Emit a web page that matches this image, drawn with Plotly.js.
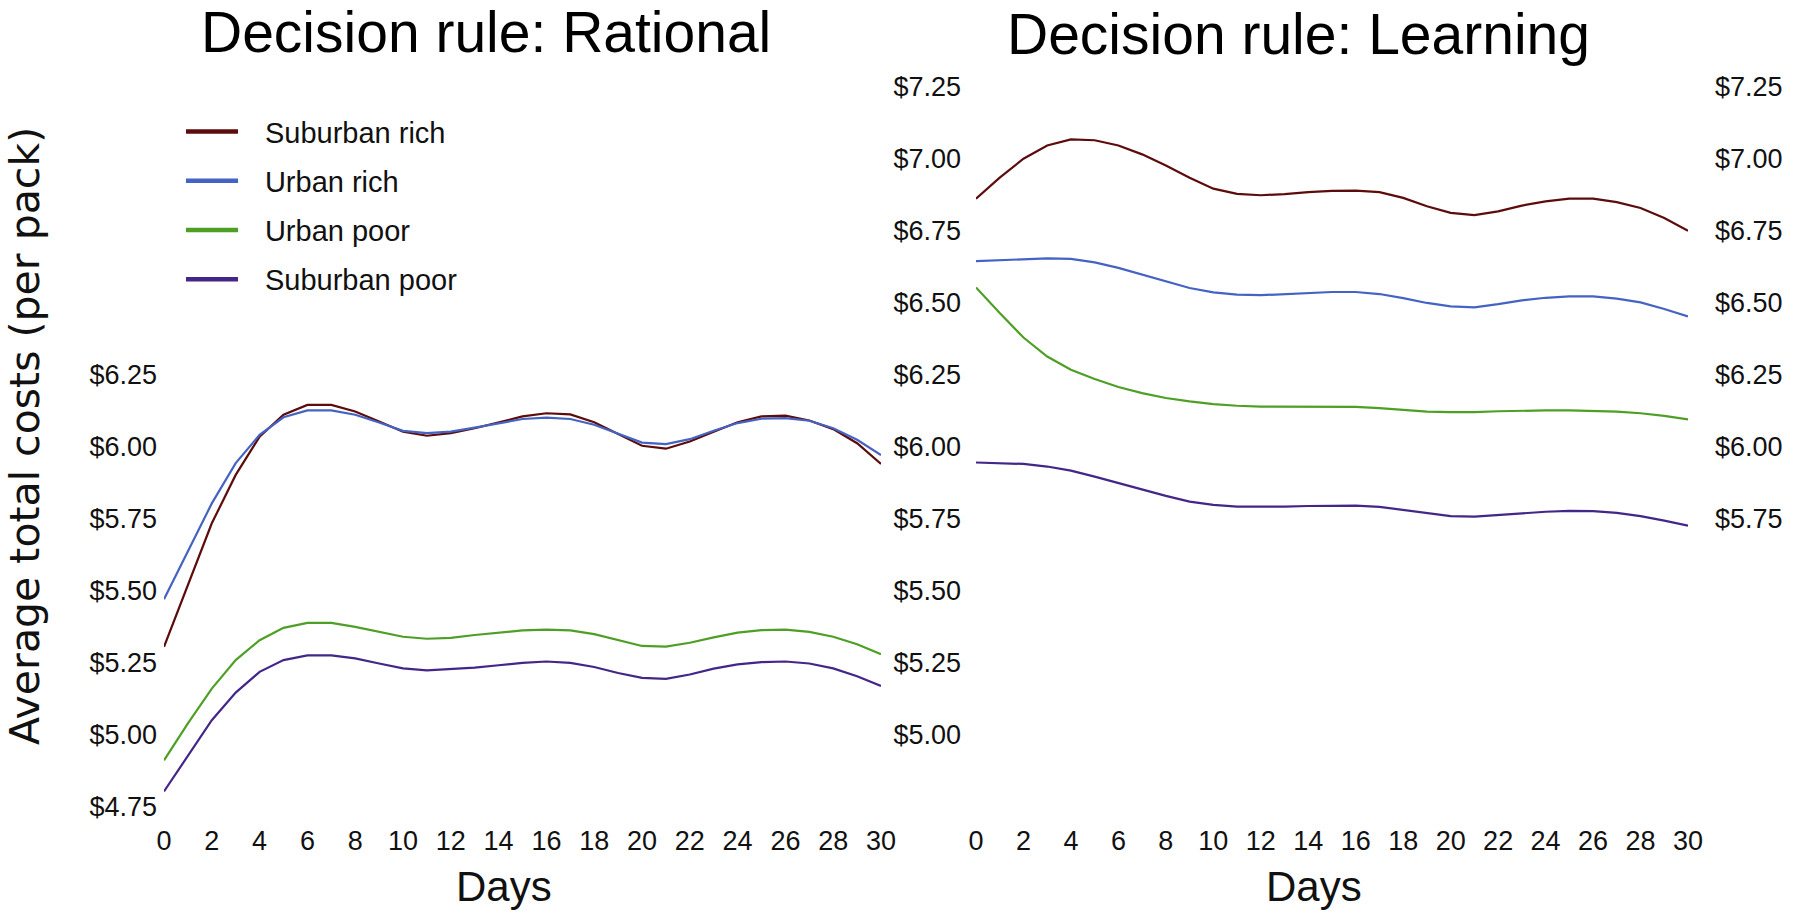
<!DOCTYPE html>
<html>
<head>
<meta charset="utf-8">
<script src="https://cdn.plot.ly/plotly-3.0.1.min.js"></script>
<style>
  html, body { margin: 0; padding: 0; background: #ffffff; }
  #chart { width: 1800px; height: 915px; }
</style>
</head>
<body>
<div id="chart"></div>
<script>
// ---- Data ----
const days = [0,1,2,3,4,5,6,7,8,9,10,11,12,13,14,15,16,17,18,19,20,21,22,23,24,25,26,27,28,29,30];
const seriesNames = ["Suburban rich", "Urban rich", "Urban poor", "Suburban poor"];
const seriesColors = ["#5c0c0c", "#4463c2", "#4e9f25", "#432688"];

// Decision rule: Rational
const rationalSuburbanRich = [5.304,5.518,5.733,5.901,6.034,6.110,6.144,6.144,6.121,6.086,6.051,6.037,6.046,6.063,6.084,6.104,6.115,6.111,6.084,6.043,6.002,5.992,6.017,6.051,6.084,6.104,6.107,6.090,6.060,6.011,5.939];
const rationalUrbanRich    = [5.469,5.634,5.802,5.942,6.040,6.101,6.125,6.125,6.110,6.083,6.054,6.046,6.051,6.065,6.081,6.095,6.100,6.095,6.075,6.043,6.013,6.008,6.025,6.054,6.081,6.096,6.098,6.089,6.063,6.023,5.970];
const rationalUrbanPoor    = [4.910,5.038,5.159,5.258,5.327,5.370,5.387,5.387,5.373,5.356,5.339,5.332,5.335,5.345,5.353,5.361,5.364,5.361,5.348,5.327,5.307,5.305,5.318,5.337,5.353,5.362,5.364,5.356,5.339,5.313,5.278];
const rationalSuburbanPoor = [4.802,4.927,5.049,5.145,5.217,5.258,5.274,5.274,5.264,5.246,5.229,5.222,5.226,5.232,5.240,5.248,5.253,5.248,5.234,5.213,5.196,5.193,5.208,5.228,5.243,5.251,5.253,5.246,5.229,5.202,5.168];

// Decision rule: Learning
const learningSuburbanRich = [6.860,6.933,6.999,7.045,7.066,7.063,7.045,7.014,6.975,6.933,6.895,6.877,6.872,6.876,6.883,6.887,6.888,6.883,6.863,6.834,6.811,6.803,6.816,6.836,6.851,6.860,6.860,6.848,6.828,6.793,6.749];
const learningUrbanRich    = [6.643,6.647,6.651,6.653,6.651,6.639,6.620,6.596,6.573,6.550,6.535,6.527,6.525,6.529,6.532,6.536,6.536,6.529,6.515,6.498,6.486,6.483,6.494,6.507,6.516,6.521,6.521,6.513,6.500,6.477,6.451];
const learningUrbanPoor    = [6.552,6.463,6.378,6.312,6.266,6.234,6.206,6.185,6.168,6.156,6.147,6.141,6.138,6.138,6.138,6.138,6.137,6.133,6.127,6.121,6.119,6.119,6.122,6.124,6.125,6.125,6.124,6.121,6.115,6.106,6.094];
const learningSuburbanPoor = [5.944,5.942,5.939,5.930,5.916,5.895,5.872,5.849,5.828,5.808,5.797,5.791,5.790,5.791,5.793,5.794,5.794,5.790,5.779,5.768,5.758,5.756,5.762,5.769,5.773,5.776,5.775,5.769,5.758,5.742,5.725];

// Tick labels
const xTickVals = [0,2,4,6,8,10,12,14,16,18,20,22,24,26,28,30];
const xTickText = ["0","2","4","6","8","10","12","14","16","18","20","22","24","26","28","30"];
const yLeftTickVals  = [4.75,5.00,5.25,5.50,5.75,6.00,6.25];
const yLeftTickText  = ["$4.75","$5.00","$5.25","$5.50","$5.75","$6.00","$6.25"];
const yMidTickVals   = [5.00,5.25,5.50,5.75,6.00,6.25,6.50,6.75,7.00,7.25];
const yMidTickText   = ["$5.00","$5.25","$5.50","$5.75","$6.00","$6.25","$6.50","$6.75","$7.00","$7.25"];
const yRightTickVals = [5.75,6.00,6.25,6.50,6.75,7.00,7.25];
const yRightTickText = ["$5.75","$6.00","$6.25","$6.50","$6.75","$7.00","$7.25"];

const titleLeft = "Decision rule: Rational";
const titleRight = "Decision rule: Learning";
const xTitle = "Days";
const yTitle = "Average total costs (per pack)";

// ---- Build traces ----
const rational = [rationalSuburbanRich, rationalUrbanRich, rationalUrbanPoor, rationalSuburbanPoor];
const learning = [learningSuburbanRich, learningUrbanRich, learningUrbanPoor, learningSuburbanPoor];

const NB = "\u00a0";
const traces = [];
rational.forEach((ys, i) => {
  traces.push({
    x: days, y: ys, xaxis: 'x', yaxis: 'y', type: 'scatter', mode: 'lines',
    name: seriesNames[i], line: { color: seriesColors[i], width: 2.2 },
    showlegend: false, hoverinfo: 'x+y+name'
  });
});
learning.forEach((ys, i) => {
  traces.push({
    x: days, y: ys, xaxis: 'x2', yaxis: 'y2', type: 'scatter', mode: 'lines',
    name: seriesNames[i], line: { color: seriesColors[i], width: 2.2 },
    showlegend: false, hoverinfo: 'x+y+name'
  });
});
// legend entries (thicker swatches, like the reference)
seriesNames.forEach((nm, i) => {
  traces.push({
    x: [null], y: [null], xaxis: 'x', yaxis: 'y', type: 'scatter', mode: 'lines',
    name: NB + NB + "\u2009" + nm, legendgroup: 'g' + i,
    line: { color: seriesColors[i], width: 4.5 }, showlegend: true, hoverinfo: 'skip'
  });
});
// an invisible trace so yaxis3 is rendered
traces.push({ x: [null], y: [null], xaxis: 'x2', yaxis: 'y3', type: 'scatter', mode: 'lines',
  showlegend: false, hoverinfo: 'skip' });

const tickFont = { family: "'Liberation Sans', Arial, sans-serif", size: 27, color: '#111111' };
const labelFont = { family: "'Liberation Sans', Arial, sans-serif", size: 42, color: '#111111' };
const yRange = [4.72, 7.30];

const commonX = {
  range: [0, 30], tickvals: xTickVals, ticktext: xTickText, tickfont: tickFont,
  showgrid: false, zeroline: false, showline: false, ticks: '', automargin: false,
  ticklabelstandoff: 7
};
const commonY = {
  range: yRange, showgrid: false, zeroline: false, showline: false, ticks: '',
  tickfont: tickFont, automargin: false
};

const layout = {
  width: 1800, height: 915,
  paper_bgcolor: '#ffffff', plot_bgcolor: '#ffffff',
  margin: { l: 0, r: 0, t: 72, b: 100 },
  showlegend: true,
  legend: {
    x: 181/1800, y: 0.954, xanchor: 'left', yanchor: 'top',
    font: { family: "'Liberation Sans', Arial, sans-serif", size: 29, color: '#111111' },
    bgcolor: 'rgba(0,0,0,0)', itemwidth: 52,
    traceorder: 'grouped', tracegroupgap: 8.5
  },
  xaxis: Object.assign({}, commonX, { domain: [164/1800, 881/1800], anchor: 'y' }),
  xaxis2: Object.assign({}, commonX, { domain: [976/1800, 1688/1800], anchor: 'y2' }),
  yaxis: Object.assign({}, commonY, {
    anchor: 'x', tickvals: yLeftTickVals, ticktext: yLeftTickText, ticklabelstandoff: 6
  }),
  yaxis2: Object.assign({}, commonY, {
    anchor: 'x2', tickvals: yMidTickVals, ticktext: yMidTickText, ticklabelstandoff: 14
  }),
  yaxis3: Object.assign({}, commonY, {
    anchor: 'x2', overlaying: 'y2', side: 'right',
    tickvals: yRightTickVals, ticktext: yRightTickText, ticklabelstandoff: 26
  }),
  annotations: [
    { text: titleLeft, xref: 'paper', yref: 'paper', x: 486/1800, y: 1.0538, xanchor: 'center', yanchor: 'middle',
      showarrow: false, font: { family: "'Liberation Sans', Arial, sans-serif", size: 57, color: '#000000' } },
    { text: titleRight, xref: 'paper', yref: 'paper', x: 1298/1800, y: 1.0518, xanchor: 'center', yanchor: 'middle',
      showarrow: false, font: { family: "'Liberation Sans', Arial, sans-serif", size: 57, color: '#000000' } },
    { text: xTitle, xref: 'paper', yref: 'paper', x: 504/1800, y: -0.0969, xanchor: 'center', yanchor: 'middle',
      showarrow: false, font: labelFont },
    { text: xTitle, xref: 'paper', yref: 'paper', x: 1314/1800, y: -0.0969, xanchor: 'center', yanchor: 'middle',
      showarrow: false, font: labelFont },
    { text: yTitle, xref: 'paper', yref: 'paper', x: 25/1800, y: 0.510, xanchor: 'center', yanchor: 'middle',
      textangle: -90, showarrow: false,
      font: { family: "'DejaVu Sans', sans-serif", size: 41, color: '#111111' } }
  ]
};

Plotly.newPlot('chart', traces, layout, { displayModeBar: false, responsive: false });
</script>
</body>
</html>
